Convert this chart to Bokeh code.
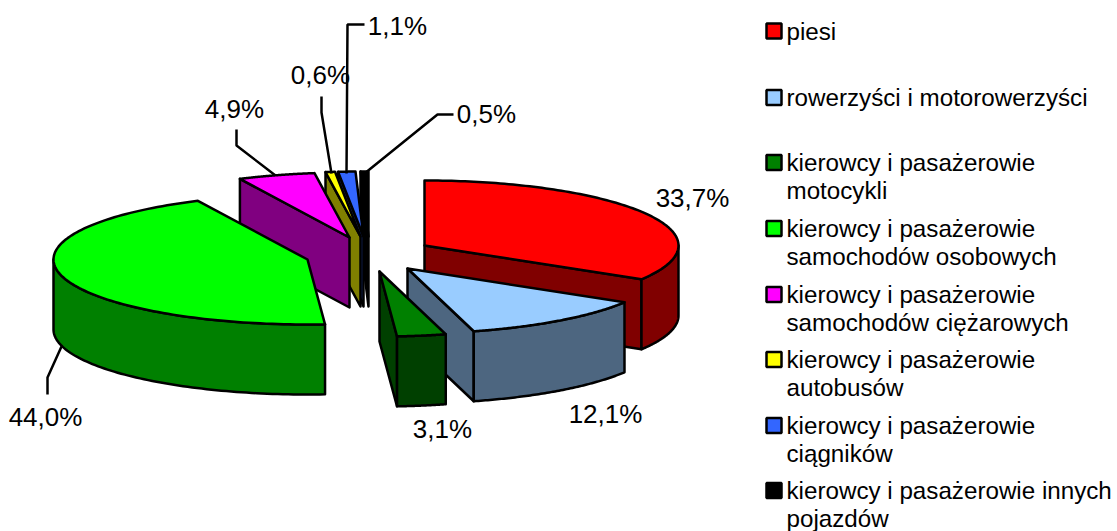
import numpy as np
from bokeh.plotting import figure
from bokeh.models import Range1d
from bokeh.core.properties import value
from bokeh.embed import file_html
from bokeh.resources import INLINE

# --- data ---
categories = ["piesi", "rowerzyści i motorowerzyści",
              "kierowcy i pasażerowie\nmotocykli",
              "kierowcy i pasażerowie\nsamochodów osobowych",
              "kierowcy i pasażerowie\nsamochodów ciężarowych",
              "kierowcy i pasażerowie\nautobusów",
              "kierowcy i pasażerowie\nciągników",
              "kierowcy i pasażerowie innych\npojazdów"]
values = [33.7, 12.1, 3.1, 44.0, 4.9, 0.6, 1.1, 0.5]
value_labels = ["33,7%", "12,1%", "3,1%", "44,0%", "4,9%", "0,6%", "1,1%", "0,5%"]
top_colors = ["#FF0000", "#99CCFF", "#008000", "#00FF00", "#FF00FF", "#FFFF00", "#3366FF", "#000000"]
wall_colors = ["#800000", "#4D6680", "#004000", "#008000", "#800080", "#808000", "#1A3380", "#000000"]

# --- layout (pixel space of the page) ---
RX, RY, DEPTH = 254.0, 65.0, 70.0
apex = [(424, 245), (407, 268), (379, 271), (307, 259), (349, 237), (360, 236), (363, 236), (368, 236)]
paint_order = [7, 6, 5, 4, 0, 1, 2, 3]
label_pos = [(692, 197), (605, 413), (442, 428), (45, 416), (234, 108), (320, 74), (397, 25), (486, 113)]
legend_y = [30.5, 97, 162, 228, 294, 359, 425, 490]
leaders = [None, None, None,
           ([61, 47, 47], [346, 377, 394]),
           ([275, 236, 236], [175, 145, 129]),
           ([331, 321, 321], [173, 112, 96]),
           ([346, 347, 364], [173, 24, 24]),
           ([364, 437, 453], [173, 114, 114])]

total = sum(values)
edges = np.concatenate([[0.0], np.cumsum(values)]) / total * 360.0


def rim(i, deg, dy=0.0):
    a = np.radians(deg)
    return apex[i][0] + RX * np.sin(a), apex[i][1] - RY * np.cos(a) + dy


xs, ys, fills = [], [], []


def add(px, py, colour):
    xs.append(list(px))
    ys.append(list(py))
    fills.append(colour)


for i in paint_order:
    a0, a1 = edges[i], edges[i + 1]
    ax, ay = apex[i]
    # radial wall that faces the viewer
    wall = a1 if a1 < 180 else (a0 if a0 >= 180 else None)
    if wall is not None:
        rx, ry = rim(i, wall)
        add([ax, rx, rx, ax], [ay, ry, ry + DEPTH, ay + DEPTH], wall_colors[i])
    # outer wall, front half only
    b0, b1 = max(a0, 90.0), min(a1, 270.0)
    if b1 > b0:
        t = np.linspace(b0, b1, 80)
        ux, uy = rim(i, t)
        add(np.r_[ux, ux[::-1]], np.r_[uy, uy[::-1] + DEPTH], wall_colors[i])
    # top face
    t = np.linspace(a0, a1, 120)
    ux, uy = rim(i, t)
    add(np.r_[ax, ux], np.r_[ay, uy], top_colors[i])

p = figure(width=1117, height=531, x_range=Range1d(0, 1117), y_range=Range1d(531, 0),
           toolbar_location=None, output_backend="svg", min_border=0,
           outline_line_color=None, x_axis_type=None, y_axis_type=None)
p.grid.visible = False

p.patches(xs, ys, fill_color=fills, line_color="#000000", line_width=2.5, line_join="round")

lx = [l[0] for l in leaders if l]
ly = [l[1] for l in leaders if l]
p.multi_line(lx, ly, line_color="#000000", line_width=2.5)

p.text(x=[q[0] for q in label_pos], y=[q[1] for q in label_pos], text=value_labels,
       text_font=value("Liberation Sans"), text_font_size="26px", text_color="#000000",
       text_align="center", text_baseline="middle")

p.scatter(x=[773.5] * 8, y=legend_y, marker="square", size=15, fill_color=top_colors,
          line_color="#000000", line_width=2.5)

tx, ty, tt = [], [], []
for yy, cat in zip(legend_y, categories):
    for k, line in enumerate(cat.split("\n")):
        tx.append(786)
        ty.append(yy + k * 27.5)
        tt.append(line)
p.text(x=tx, y=ty, text=tt, text_font=value("Liberation Sans"), text_font_size="24.2px",
       text_color="#000000", text_align="left", text_baseline="middle")

open("out.html", "w").write(file_html(p, INLINE))
